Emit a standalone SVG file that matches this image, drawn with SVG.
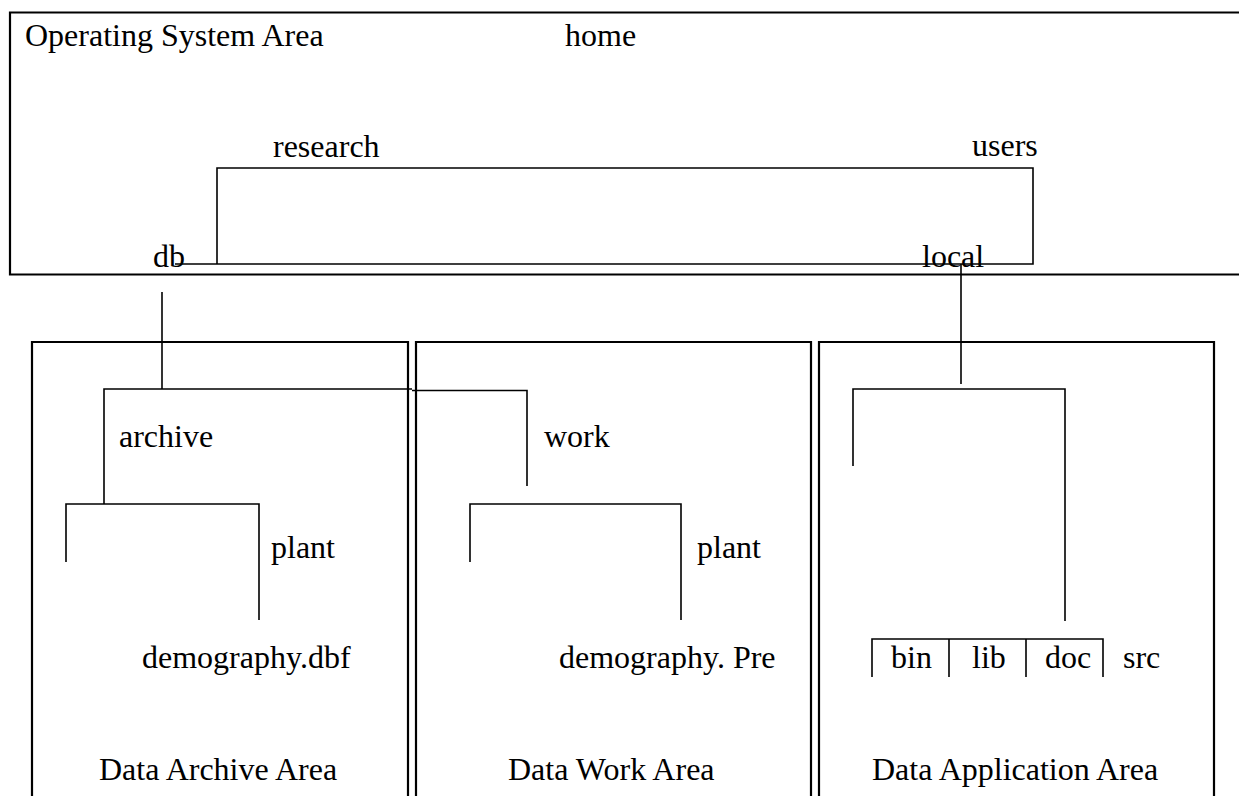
<svg xmlns="http://www.w3.org/2000/svg" width="1239" height="796" viewBox="0 0 1239 796">
  <style>
    .lbl { font-family: "Liberation Serif", "Times New Roman", serif; font-size: 32px; fill: #000; }
    .area { fill: none; stroke: #000; stroke-width: 2.2; }
    .tree { fill: none; stroke: #000; stroke-width: 1.6; }
  </style>
  <rect x="0" y="0" width="1239" height="796" fill="#fff"/>

  <g id="os-area">
    <path class="area" d="M1239,12.5 H10 V274.5 H1239"/>
    <text class="lbl" x="25" y="46">Operating System Area</text>
  </g>
  <g id="data-archive-area">
    <path class="area" d="M32,800 V342 H408 V800"/>
    <text class="lbl" x="99" y="780">Data Archive Area</text>
  </g>
  <g id="data-work-area">
    <path class="area" d="M416,800 V342 H811 V800"/>
    <text class="lbl" x="508" y="780">Data Work Area</text>
  </g>
  <g id="data-application-area">
    <path class="area" d="M819,800 V342 H1214 V800"/>
    <text class="lbl" x="872" y="780">Data Application Area</text>
  </g>

  <g id="home"><text class="lbl" x="565" y="46">home</text></g>
  <g id="research"><text class="lbl" x="273" y="157">research</text></g>
  <g id="users"><text class="lbl" x="972" y="156">users</text></g>
  <g id="db"><text class="lbl" x="153" y="267">db</text></g>
  <g id="local"><text class="lbl" x="922" y="267">local</text></g>
  <g id="archive"><text class="lbl" x="119" y="447">archive</text></g>
  <g id="work"><text class="lbl" x="544" y="447">work</text></g>
  <g id="plant-archive"><text class="lbl" x="271" y="558">plant</text></g>
  <g id="plant-work"><text class="lbl" x="697" y="558">plant</text></g>
  <g id="demography-dbf"><text class="lbl" x="142" y="668">demography.dbf</text></g>
  <g id="demography-pre"><text class="lbl" x="559" y="668">demography. Pre</text></g>
  <g id="bin"><text class="lbl" x="891" y="668">bin</text></g>
  <g id="lib"><text class="lbl" x="972" y="668">lib</text></g>
  <g id="doc"><text class="lbl" x="1045" y="668">doc</text></g>
  <g id="src"><text class="lbl" x="1123" y="668">src</text></g>

  <g id="connectors">
    <!-- research / users bracket -->
    <path class="tree" d="M175,264 H1033 V168 H217 V264"/>
    <!-- db down to archive/work -->
    <path class="tree" d="M162,292 V389"/>
    <path class="tree" d="M104,504 V389 H412 M412,390.5 H527 V486"/>
    <!-- archive -> plant bracket -->
    <path class="tree" d="M66,562 V504 H259 V620"/>
    <!-- work -> plant bracket -->
    <path class="tree" d="M470,562 V504 H681 V620"/>
    <!-- local down -->
    <path class="tree" d="M961,264 V384"/>
    <path class="tree" d="M853,466 V389 H1065 V621"/>
    <!-- bin lib doc src -->
    <path class="tree" d="M872,677 V639 H1103 V677 M949,639 V677 M1026,639 V677"/>
  </g>
</svg>
